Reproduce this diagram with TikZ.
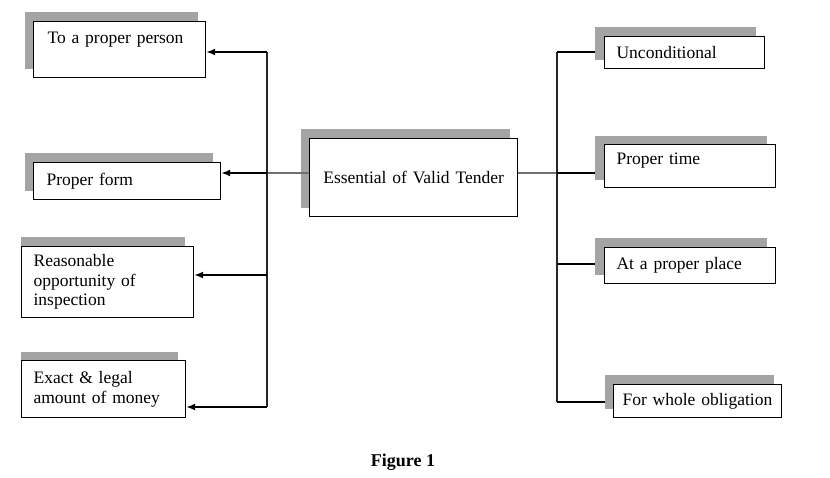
\documentclass[tikz,border=0pt]{standalone}
\usepackage{fontspec}
\setmainfont{Liberation Serif}
\usetikzlibrary{arrows.meta,backgrounds}
\definecolor{shadegray}{RGB}{164,164,164}
\definecolor{hubgray}{RGB}{112,112,112}

\begin{document}
\begin{tikzpicture}[x=1pt,y=-1pt,
  tbox/.style={draw=black,line width=1.2pt,fill=white,anchor=north west,
    inner xsep=12pt,inner ysep=0pt,align=left,
    font=\fontsize{17.5}{19.5}\selectfont},
  toarr/.style={black,line width=1.6pt,-{Latex[length=9pt,width=7pt]}},
  hub/.style={hubgray,line width=1.3pt},
  spine/.style={black!85,line width=1.2pt},
  tie/.style={black,line width=1.8pt}]
  \useasboundingbox (0,0) rectangle (830,477);
  % left branch
  \node[tbox,inner xsep=14pt,text width=144pt,minimum height=56pt,text depth=23.6pt] (b1) at (33,21) {To a proper person};
  \node[tbox,inner xsep=13pt,text width=161pt,minimum height=37pt] (b2) at (33,162) {Proper form};
  \node[tbox,text width=148pt,minimum height=71pt] (b3) at (21,246) {Reasonable\\opportunity of\\inspection};
  \node[tbox,text width=140pt,minimum height=57pt] (b4) at (21,360) {Exact \& legal\\amount of money};
  % centre
  \node[tbox,align=center,text width=184pt,minimum height=78pt] (cen) at (309,138) {Essential of Valid Tender};
  % right branch
  \node[tbox,text width=136pt,minimum height=32pt] (r1) at (604,36) {Unconditional};
  \node[tbox,text width=147pt,minimum height=43pt,text depth=15pt] (r2) at (604,144) {Proper time};
  \node[tbox,text width=147pt,minimum height=36pt] (r3) at (604,247) {At a proper place};
  \node[tbox,inner xsep=9pt,text width=150pt,minimum height=33pt] (r4) at (613,384) {For whole obligation};
  \node[font=\bfseries\fontsize{18}{20}\selectfont] (cap) at (403,462) {Figure 1};

  \begin{scope}[on background layer]
    \foreach \n/\dx/\dy in {b1/-8/-9,b2/-8/-9,cen/-8/-9,r1/-9/-9,r2/-9/-8,r3/-9/-9,r4/-8/-9}{
      \fill[shadegray] ([shift={(\dx,\dy)}]\n.north west) rectangle ([shift={(\dx,\dy)}]\n.south east);
    }
    \fill[shadegray] ([shift={(0,-9)}]b3.north west) rectangle ([shift={(-9,-9)}]b3.south east);
    \fill[shadegray] ([shift={(0,-8)}]b4.north west) rectangle ([shift={(-8,-8)}]b4.south east);
  \end{scope}

  \coordinate (lt) at (267,52);
  \coordinate (hl) at (267,173);
  \coordinate (l3) at (267,275);
  \coordinate (lb) at (267,407);
  \coordinate (rt) at (557,52);
  \coordinate (hr) at (557,173);
  \coordinate (r3y) at (557,264);
  \coordinate (rb) at (557,402);

  \draw[hub] (cen.west |- hl) -- (hl);
  \draw[hub] (cen.east |- hr) -- (hr);
  \draw[spine] (lt) -- (lb);
  \draw[spine] (rt) -- (rb);
  \draw[toarr] (lt) -- (b1.east |- lt);
  \draw[toarr] (hl) -- (b2.east |- hl);
  \draw[toarr] (l3) -- (b3.east |- l3);
  \draw[toarr] (lb) -- (b4.east |- lb);
  \draw[tie] (rt) -- ([xshift=-9pt]r1.west |- rt);
  \draw[tie] (hr) -- ([xshift=-9pt]r2.west |- hr);
  \draw[tie] (r3y) -- ([xshift=-9pt]r3.west |- r3y);
  \draw[tie] (rb) -- ([xshift=-8pt]r4.west |- rb);
\end{tikzpicture}
\end{document}
